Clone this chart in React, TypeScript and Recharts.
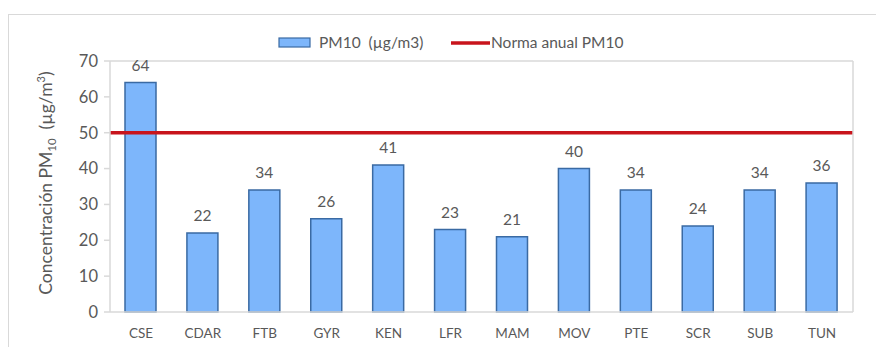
import React from "react";
import { BarChart, Bar, XAxis, YAxis, ReferenceLine, LabelList } from "recharts";

// Annual mean PM10 per monitoring station
const stations = ["CSE", "CDAR", "FTB", "GYR", "KEN", "LFR", "MAM", "MOV", "PTE", "SCR", "SUB", "TUN"];
const pm10Values = [64, 22, 34, 26, 41, 23, 21, 40, 34, 24, 34, 36];
const annualStandard = 50;
const yTicks = [0, 10, 20, 30, 40, 50, 60, 70];

const data = stations.map((station, i) => ({ station, pm10: pm10Values[i] }));

const FONT = "Lato, 'Open Sans', sans-serif";
const TEXT = "#595959";
const BAR_FILL = "#7db6fb";
const BAR_STROKE = "#3a6aa3";
const NORM_RED = "#c8141c";
const FRAME = "#d9d9d9";

const Legend = () => (
  <g fontFamily={FONT} fontSize={15.5} fill={TEXT}>
    <rect x={279} y={38} width={31} height={9} fill={BAR_FILL} stroke={BAR_STROKE} strokeWidth={1.2} />
    <text x={319} y={48}>{"PM10\u00a0\u00a0(µg/m3)"}</text>
    <line x1={451} y1={43} x2={490} y2={43} stroke={NORM_RED} strokeWidth={3.5} />
    <text x={491} y={48}>Norma anual PM10</text>
  </g>
);

const YLabel = () => (
  <text
    transform="translate(52,183) rotate(-90)"
    textAnchor="middle"
    fontFamily={FONT}
    fontSize={17.5}
    fill={TEXT}
  >
    Concentración PM
    <tspan fontSize={11.5} dy={4}>10</tspan>
    <tspan dy={-4}>{"\u00a0\u00a0(µg/m"}</tspan>
    <tspan fontSize={11} dy={-7}>3</tspan>
    <tspan dy={7}>)</tspan>
  </text>
);

export default function App() {
  return (
    <div style={{ position: "absolute", left: 0, top: 0, width: 876, height: 347, overflow: "hidden", background: "#fff" }}>
      <div
        style={{
          position: "absolute",
          left: 8,
          top: 14,
          width: 900,
          height: 400,
          borderLeft: `1.5px solid ${FRAME}`,
          borderTop: `1.5px solid ${FRAME}`,
        }}
      />
      <BarChart
        width={876}
        height={347}
        data={data}
        margin={{ top: 61, right: 22, bottom: 0, left: 0 }}
        style={{ position: "absolute", left: 0, top: 0 }}
      >
        <XAxis
          dataKey="station"
          axisLine={{ stroke: FRAME, strokeWidth: 1.5 }}
          tickLine={false}
          height={35}
          tick={{ fill: TEXT, fontSize: 13.5, fontFamily: FONT }}
          tickMargin={10}
        />
        <YAxis
          domain={[0, 70]}
          ticks={yTicks}
          width={110}
          axisLine={{ stroke: FRAME, strokeWidth: 1.5 }}
          tickLine={{ stroke: FRAME, strokeWidth: 1.5 }}
          tickSize={6}
          tickMargin={6}
          tick={{ fill: TEXT, fontSize: 16.5, fontFamily: FONT }}
          interval={0}
        />
        <YAxis
          yAxisId="frame"
          orientation="right"
          domain={[0, 70]}
          width={1}
          tick={false}
          tickLine={false}
          axisLine={{ stroke: FRAME, strokeWidth: 1.5 }}
        />
        <ReferenceLine y={70} stroke={FRAME} strokeWidth={1.5} />
        <Bar dataKey="pm10" barSize={31} fill={BAR_FILL} stroke={BAR_STROKE} strokeWidth={1.5} isAnimationActive={false}>
          <LabelList dataKey="pm10" position="top" offset={12} fill={TEXT} fontSize={15.5} fontFamily={FONT} />
        </Bar>
        <ReferenceLine y={annualStandard} stroke={NORM_RED} strokeWidth={3.5} />
        <Legend />
        <YLabel />
      </BarChart>
    </div>
  );
}
